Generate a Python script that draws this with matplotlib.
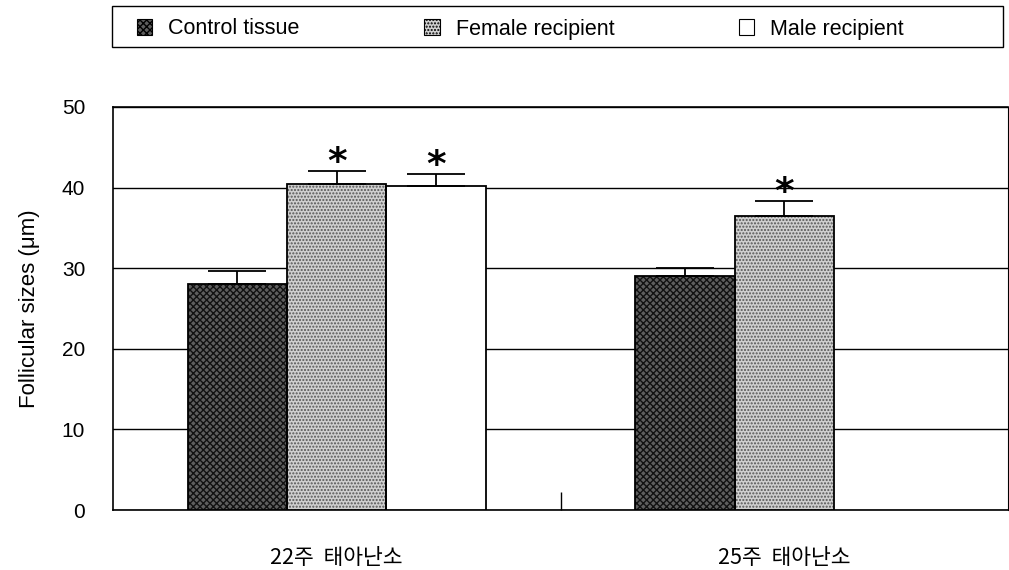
import matplotlib
matplotlib.use("Agg")
import matplotlib.pyplot as plt
import numpy as np
from matplotlib.patches import Patch, Rectangle

plt.rcParams['font.family'] = ['Liberation Sans', 'Noto Sans CJK KR', 'DejaVu Sans']
plt.rcParams['hatch.linewidth'] = 1.0

categories = ['22주  태아난소', '25주  태아난소']
series = ['Control tissue', 'Female recipient', 'Male recipient']
values = {
    'Control tissue': [28.1, 29.0],
    'Female recipient': [40.4, 36.5],
    'Male recipient': [40.2, None],
}
errors = {
    'Control tissue': [1.6, 1.0],
    'Female recipient': [1.6, 1.8],
    'Male recipient': [1.5, None],
}
significant = {
    'Control tissue': [False, False],
    'Female recipient': [True, True],
    'Male recipient': [True, False],
}

styles = {
    'Control tissue': dict(facecolor='#5e5e5e', hatch='xxxxx', edgecolor='#111111'),
    'Female recipient': dict(facecolor='#d0d0d0', hatch='.....', edgecolor='#555555'),
    'Male recipient': dict(facecolor='white', hatch='', edgecolor='black'),
}

W, H = 1009, 570
fig = plt.figure(figsize=(W / 100, H / 100), dpi=100)
ax = fig.add_axes([113 / W, 1 - 510 / H, (1008 - 113) / W, (510 - 107) / H])

x = np.arange(len(categories))
w = 0.222
for i, s in enumerate(series):
    for j, c in enumerate(categories):
        v = values[s][j]
        if v is None:
            continue
        st = styles[s]
        xp = x[j] + (i - 1) * w
        ax.bar(xp, v, width=w, facecolor=st['facecolor'], hatch=st['hatch'],
               edgecolor=st['edgecolor'], linewidth=0, zorder=3)
        ax.bar(xp, v, width=w, facecolor='none', edgecolor='black', linewidth=1.3, zorder=4)
        e = errors[s][j]
        ax.errorbar(xp, v, yerr=[[0], [e]], fmt='none', ecolor='black',
                    elinewidth=1.3, capsize=21, capthick=1.3, zorder=5)
        if significant[s][j]:
            ax.text(xp, v + e - 0.2, '*', ha='center', va='baseline',
                    fontsize=27, fontweight='bold', fontfamily='DejaVu Sans', zorder=6)

ax.set_xlim(-0.5, 1.5)
ax.set_ylim(0, 50)
ax.set_yticks([0, 10, 20, 30, 40, 50])
ax.yaxis.grid(True, color='black', linewidth=1.0, zorder=0)
ax.set_axisbelow(True)
ax.tick_params(axis='y', direction='in', length=0, labelsize=15, pad=20)
ax.set_xticks(x)
ax.set_xticklabels(categories, fontsize=15.5,
                   fontfamily=['Noto Sans CJK KR', 'DejaVu Sans'])
ax.tick_params(axis='x', length=0, pad=27)
ax.set_xticks([0.5], minor=True)
ax.tick_params(axis='x', which='minor', direction='in', length=13, width=1.0)
for sp in ax.spines.values():
    sp.set_color('black')
    sp.set_linewidth(1.2)
ax.spines['right'].set_linewidth(0.8)
ax.set_ylabel('Follicular sizes (μm)', fontsize=16, labelpad=16)

# legend frame
fig.add_artist(Rectangle((112 / W, 1 - 47 / H), (1003 - 112) / W, 41 / H,
                         transform=fig.transFigure, facecolor='none',
                         edgecolor='black', linewidth=1.0))
handles = [Patch(facecolor=styles[s]['facecolor'], hatch=styles[s]['hatch'],
                 edgecolor='black', linewidth=0.8) for s in series]
fs = 15.5
leg = fig.legend(handles, series, loc='center left', ncol=3,
                 bbox_to_anchor=(137 / W, 1 - 29 / H),
                 fontsize=fs, frameon=False,
                 handlelength=0.7, handleheight=0.7, handletextpad=0.75,
                 columnspacing=5.8, borderaxespad=0, borderpad=0)

fig.savefig('out.png', dpi=100)
